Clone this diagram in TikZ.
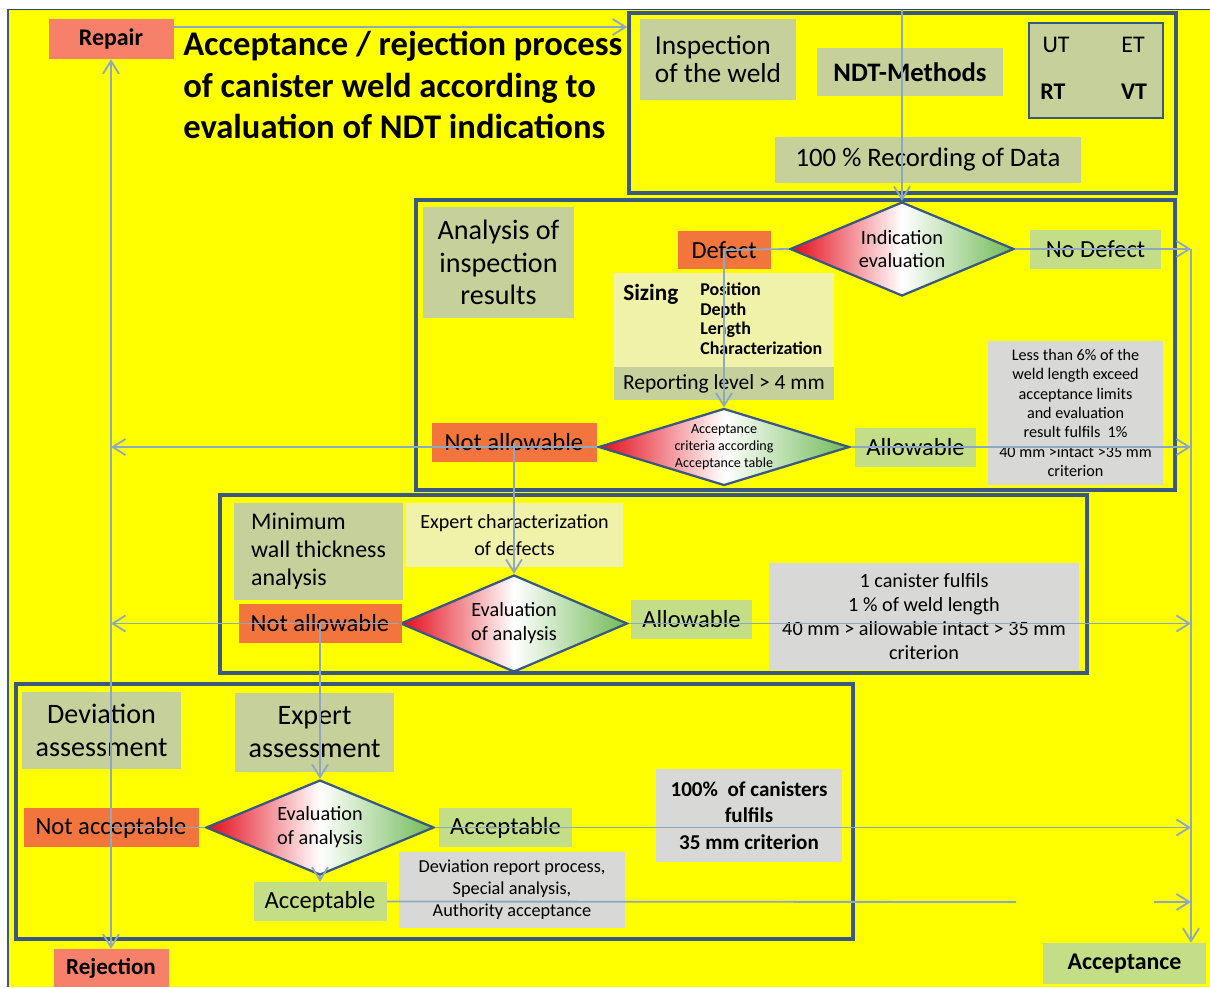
\documentclass[tikz,border=0pt]{standalone}
\usepackage{fontspec}
\setmainfont{Carlito}
\usepackage{xcolor}
\usepackage{tikz}
\usetikzlibrary{shapes.geometric, positioning, arrows.meta}

\definecolor{canvasyellow}{RGB}{255,255,0}
\definecolor{framedark}{RGB}{59,88,130}
\definecolor{linkblue}{RGB}{143,168,194}
\definecolor{sagegreen}{RGB}{197,208,155}
\definecolor{limegreen}{RGB}{196,222,136}
\definecolor{defectorange}{RGB}{242,117,62}
\definecolor{salmonred}{RGB}{246,128,106}
\definecolor{paleyellow}{RGB}{240,242,170}
\definecolor{notegray}{RGB}{216,216,214}
\definecolor{shadered}{RGB}{228,10,25}
\definecolor{shadegreen}{RGB}{112,186,86}

\begin{document}
\begin{tikzpicture}[
    x = 0.025cm, y = -0.025cm,
    wh/.style 2 args = {minimum width=#1*0.025cm, minimum height=#2*0.025cm},
    fs/.style 2 args = {font=\fontsize{#1}{#2}\selectfont},
    fsb/.style 2 args = {font=\fontsize{#1}{#2}\selectfont\bfseries},
    box/.style = {rectangle, inner sep=0pt, align=center},
    sagebox/.style = {box, fill=sagegreen},
    limebox/.style = {box, fill=limegreen, fs={17.5}{21}},
    orangebox/.style = {box, fill=defectorange, fs={17.5}{21}},
    salmonbox/.style = {box, fill=salmonred},
    palebox/.style = {box, fill=paleyellow},
    notebox/.style = {box, fill=notegray},
    stage/.style = {box, draw=framedark, line width=2.6pt},
    decision/.style = {diamond, draw=framedark, line width=1.6pt, inner sep=0pt, align=center,
        left color=shadered, right color=shadegreen, middle color=white},
    link/.style = {draw=linkblue, line width=1.3pt},
    arr/.style = {link, -{Straight Barb[length=3.2mm, width=4mm]}}
  ]
    \useasboundingbox (0,0) rectangle (1210,987);
    \fill[white] (0,0) rectangle (1210,987);
    \fill[canvasyellow] (9,9) rectangle (1210,987);
    \draw[framedark, line width=1.5pt] (8,987) -- (8,9);
    \draw[framedark!80!black, line width=0.6pt] (8,9) -- (1210,9);

    % the four stages
    \node[stage, wh={547}{180}] (inspstage) at (902.5,103) {};
    \node[stage, wh={759}{290}] (analysisstage) at (795.5,345) {};
    \node[stage, wh={867}{178}] (wallstage) at (653.5,584) {};
    \node[stage, wh={837}{255}] (devstage) at (434.5,811.5) {};

    % inspection
    \node[sagebox, wh={156}{81}, fs={19.5}{20}, align=left] (inspection) at (718,59.5) {Inspection\\of the weld};
    \node[sagebox, wh={186}{48}, fsb={19}{23}] (ndt) at (910,72) {NDT-Methods};
    \node[sagebox, wh={134}{95}, draw=framedark, line width=2pt] (methods) at (1096,70.5) {};
    \node[fs={17}{20}] (ut) at (1056,45) {UT};
    \node[fs={17}{20}] (et) at (1133,45) {ET};
    \node[fsb={17}{20}] (rt) at (1053,92) {RT};
    \node[fsb={17}{20}] (vt) at (1134,92) {VT};
    \node[sagebox, wh={306}{46}, fs={19}{23}] (recording) at (928,160) {100 \% Recording of Data};

    % analysis of inspection results
    \node[sagebox, wh={151}{111}, fs={20}{23}] (analysis) at (498.5,262.5) {Analysis of\\inspection\\results};
    \node[orangebox, wh={93}{38}] (defect) at (724,250) {Defect};
    \node[decision, wh={224}{94}, aspect=2.4, fs={14.5}{16.5}] (indication) at (902,249) {Indication\\evaluation};
    \node[limebox, wh={131}{39}] (nodefect) at (1095.5,249.5) {No Defect};
    \node[palebox, wh={220}{94}] (sizing) at (724,320) {};
    \node[fsb={16.5}{20}, anchor=west, inner sep=0pt] (sizingtitle) at (623,294) {Sizing};
    \node[fsb={12.8}{13.8}, align=left, anchor=north west, inner sep=0pt] (sizinglist) at (700,283) {Position\\Depth\\Length\\Characterization};
    \node[sagebox, wh={220}{33}, fs={15.3}{18}] (reporting) at (724,383.5) {Reporting level > 4 mm};
    \node[decision, wh={251}{77}, aspect=3.2, fs={10}{12}] (acceptcrit) at (724,447) {Acceptance\\criteria according\\Acceptance table};
    \node[orangebox, wh={165}{39}] (notallow1) at (514,442.5) {Not allowable};
    \node[limebox, wh={121}{39}] (allow1) at (915.5,447.5) {Allowable};
    \node[notebox, wh={175}{144}, fs={11.5}{13.8}] (limits1) at (1075.5,413) {Less than 6\% of the\\weld length exceed\\acceptance limits\\and evaluation\\result fulfils~~1\%\\40 mm >intact >35 mm\\criterion};

    % minimum wall thickness
    \node[sagebox, wh={169}{97}, fs={17}{20}, align=left] (wall) at (318.5,551.5) {Minimum\\wall thickness\\analysis};
    \node[palebox, wh={217}{64}, fs={14.3}{19}] (expertchar) at (514.5,535) {Expert characterization\\of defects};
    \node[decision, wh={227}{97}, aspect=2.3, fs={14.4}{17}] (evalwall) at (514,623.5) {Evaluation\\of analysis};
    \node[orangebox, wh={163}{39}] (notallow2) at (320,623.5) {Not allowable};
    \node[limebox, wh={121}{39}] (allow2) at (691.5,619.5) {Allowable};
    \node[notebox, wh={310}{107}, fs={14.4}{17}] (limits2) at (924,616.5) {1 canister fulfils\\1 \% of weld length\\40 mm > allowable intact > 35 mm\\criterion};

    % deviation assessment
    \node[sagebox, wh={159}{77}, fs={20}{23.5}] (deviation) at (101.5,730.5) {Deviation\\assessment};
    \node[sagebox, wh={159}{79}, fs={20}{23.5}] (expert) at (314.5,732.5) {Expert\\assessment};
    \node[decision, wh={228}{95}, aspect=2.4, fs={14.4}{17}] (evaldev) at (320,827.5) {Evaluation\\of analysis};
    \node[orangebox, wh={175}{39}] (notaccept) at (111,827.5) {Not acceptable};
    \node[limebox, wh={133}{39}] (accept1) at (505.5,827.5) {Acceptable};
    \node[limebox, wh={133}{39}] (accept2) at (320,901.5) {Acceptable};
    \node[notebox, wh={226}{76}, fs={13}{15.6}] (devreport) at (512,890) {Deviation report process,\\Special analysis,\\Authority acceptance};
    \node[notebox, wh={186}{93}, fsb={15}{19}] (canisters) at (749,815.5) {100\%~~of canisters\\fulfils\\35 mm criterion};

    % outcomes and title
    \node[salmonbox, wh={125}{40}, fsb={17}{20}] (repair) at (111,39) {Repair};
    \node[salmonbox, wh={115}{38}, fsb={16.4}{20}] (rejection) at (111,968) {Rejection};
    \node[limebox, wh={163}{41}, fsb={17}{20}] (acceptance) at (1124.5,963.5) {Acceptance};
    \node[fsb={24.6}{29.5}, align=left, anchor=north west, inner sep=0pt] (title) at (183,31)
        {Acceptance / rejection process\\of canister weld according to\\evaluation of NDT indications};

    \coordinate (rail) at (1191,249);
    \coordinate (leftrail) at (111,447);
    \coordinate (topin) at (902,10);
    \coordinate (gapstart) at (1016,902);
    \coordinate (gapend) at (1154,902);

    % connectors
    \draw[arr] ([yshift=3mm]repair.east) -- ([yshift=3mm]repair.east -| inspstage.west);
    \draw[arr] (topin) -- (indication.north);
    \draw[link] (indication.west) -- (defect.center);
    \draw[arr] (defect.center) -- (acceptcrit.north);
    \draw[arr] (indication.east) -- (indication.east -| rail);
    \draw[arr] (rail) -- (rail |- acceptance.north);
    \draw[arr] (acceptcrit.east) -- (acceptcrit.east -| rail);
    \draw[arr] (acceptcrit.west) -- (acceptcrit.west -| leftrail);
    \draw[arr] (notallow1.center) -- (evalwall.north);
    \draw[arr] (evalwall.east) -- (evalwall.east -| rail);
    \draw[arr] (evalwall.west) -- (evalwall.west -| leftrail);
    \draw[arr] (notallow2.center) -- (evaldev.north);
    \draw[arr] (evaldev.east) -- (evaldev.east -| rail);
    \draw[link] (evaldev.west) -- (notaccept.center);
    \draw[arr] (evaldev.south) -- (accept2.north);
    \draw[link] (accept2.east) -- (gapstart);
    \draw[arr] (gapend) -- (gapend -| rail);
    \draw[arr] (notaccept.center) -- (repair.south);
    \draw[arr] (notaccept.center) -- (rejection.north);
\end{tikzpicture}
\end{document}
